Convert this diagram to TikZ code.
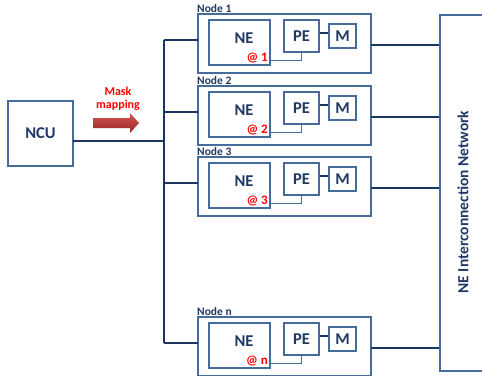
\documentclass[tikz,border=0pt]{standalone}
\usepackage{fontspec}
\setmainfont{Carlito}
\usetikzlibrary{calc}
\definecolor{boxc}{RGB}{70,108,156}
\definecolor{navy}{RGB}{28,54,98}
\definecolor{txt}{RGB}{31,56,100}
\definecolor{redtxt}{RGB}{255,0,0}
\definecolor{arrtop}{RGB}{214,86,82}
\definecolor{arrbot}{RGB}{150,40,38}
\begin{document}
\begin{tikzpicture}[x=1pt,y=-1pt,
  box/.style={draw=boxc,line width=1.3pt,fill=white,inner sep=0pt,
    font=\bfseries\fontsize{16.5}{16.5}\selectfont,text=txt},
  conn/.style={draw=navy,line width=1.8pt},
  thinc/.style={draw=boxc,line width=0.9pt},
  bigtxt/.style={font=\bfseries\fontsize{16.5}{16.5}\selectfont,text=txt,inner sep=0pt},
  nodelbl/.style={font=\bfseries\fontsize{11.5}{11.5}\selectfont,text=txt,inner sep=0pt},
  redlbl/.style={font=\bfseries\fontsize{13}{13}\selectfont,text=redtxt,inner sep=0pt}]
\useasboundingbox (0,0) rectangle (482,375);

% NCU
\node[box,minimum width=65pt,minimum height=65pt] (ncu) at (40.5,133.5) {NCU};

% Interconnection network box (right side runs off the picture)
\begin{scope}
\clip (0,0) rectangle (482,375);
\node[box,minimum width=52pt,minimum height=356pt] (icn) at (466,193) {};
\end{scope}
\node[bigtxt,font=\bfseries\fontsize{15.5}{15.5}\selectfont,rotate=90] (icnt) at (463,202) {NE Interconnection Network};

% bus
\coordinate (bt) at (164,40);
\coordinate (bb) at (164,343);
\draw[conn] (bt) -- (bb);
\coordinate (nc) at (73,141);
\draw[conn] (nc) -- (nc -| bt);

% mask mapping arrow
\shade[top color=arrtop,bottom color=arrbot]
  (93,118) -- (130,118) -- (130,113) -- (139,123) -- (130,133) -- (130,128) -- (93,128) -- cycle;
\node[redlbl,font=\bfseries\fontsize{12}{12}\selectfont,align=center] (mm) at (118,99) {Mask\\[1pt]mapping};

\foreach \i/\t/\lab in {1/14/1, 2/86/2, 3/157/3, 4/317/n} {
  \node[box,minimum width=173pt,minimum height=59pt] (node\i) at (284.5,\t+29.5) {};
  \node[nodelbl,anchor=base west] (nl\i) at (197,\t-2) {Node \lab};
  \node[box,minimum width=61pt,minimum height=45pt] (ne\i) at (239.5,\t+28.5) {};
  \node[bigtxt] (net\i) at (244,\t+24) {NE};
  \node[redlbl,anchor=east] (at\i) at (268,\t+44) {@ \lab};
  \node[box,minimum width=35pt,minimum height=32pt] (pe\i) at (301.5,\t+22) {PE};
  \node[box,minimum width=27pt,minimum height=24pt] (m\i) at (342.5,\t+22) {M};
  \draw[conn] ($(pe\i.east)+(0,-3)$) -- ($(m\i.west)+(0,-3)$);
  \draw[thinc] ($(ne\i.south east)+(0,-5)$) -| (pe\i.south);
  \coordinate (l\i) at (198,\t+26);
  \draw[conn] (l\i) -- (l\i -| bt);
  \coordinate (r\i) at (371,\t+31);
  \draw[conn] (r\i) -- (r\i -| icn.west);
}
\end{tikzpicture}
\end{document}
